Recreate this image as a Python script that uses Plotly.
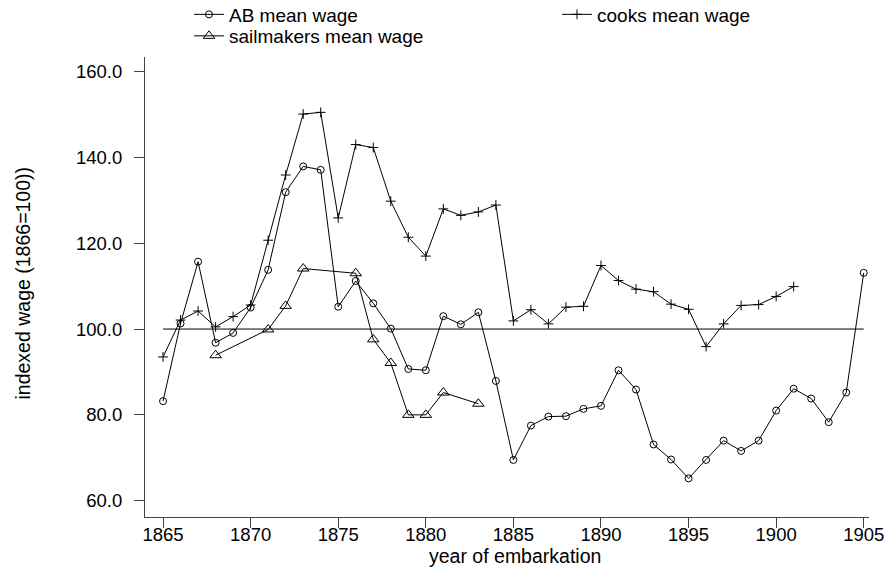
import plotly.graph_objects as go

years_ab = list(range(1865, 1906))
ab_wage = [83.2, 101.3, 115.7, 96.8, 99.1, 105.0, 113.8, 131.9, 137.9, 137.1,
           105.2, 111.2, 106.0, 100.1, 90.7, 90.4, 103.0, 101.1, 103.9, 87.9,
           69.5, 77.5, 79.6, 79.7, 81.4, 82.1, 90.4, 85.9, 73.1, 69.6,
           65.2, 69.5, 74.0, 71.6, 74.0, 81.0, 86.1, 83.8, 78.3, 85.2, 113.1]

years_cooks = list(range(1865, 1902))
cooks_wage = [93.5, 102.1, 104.2, 100.5, 102.9, 105.6, 120.7, 135.9, 150.1, 150.5,
              125.9, 143.0, 142.3, 129.8, 121.4, 117.0, 128.0, 126.5, 127.3, 128.9,
              101.9, 104.5, 101.2, 105.1, 105.3, 114.8, 111.3, 109.3, 108.7, 105.8,
              104.6, 95.9, 101.2, 105.5, 105.7, 107.6, 109.9]

years_sail = [1868, 1871, 1872, 1873, 1876, 1877, 1878, 1879, 1880, 1881, 1883]
sail_wage = [93.9, 99.9, 105.4, 114.1, 113.0, 97.6, 92.1, 80.0, 80.0, 85.2, 82.6]

ref_years = [1865, 1905]
ref_value = [100, 100]

x_ticks = list(range(1865, 1906, 5))
y_ticks = [60, 80, 100, 120, 140, 160]

x_title = "year of embarkation"
y_title = "indexed wage (1866=100))"

FONT = "Arial, Liberation Sans, sans-serif"
BLACK = "#000000"
AXIS = "#444444"

W, H = 886, 573
ML, MR, MT, MB = 145, 17, 57, 56
PW, PH = W - ML - MR, H - MT - MB

fig = go.Figure()
fig.add_trace(go.Scatter(
    x=years_ab, y=ab_wage, name="AB mean wage", mode="lines+markers", legend="legend",
    line=dict(color=BLACK, width=1),
    marker=dict(symbol="circle-open", size=7, color=BLACK, line=dict(width=1, color=BLACK))))
fig.add_trace(go.Scatter(
    x=years_cooks, y=cooks_wage, name="cooks mean wage", mode="lines+markers", legend="legend2",
    line=dict(color=BLACK, width=1),
    marker=dict(symbol="cross-thin", size=7, color=BLACK, line=dict(width=1, color=BLACK))))
fig.add_trace(go.Scatter(
    x=years_sail, y=sail_wage, name="sailmakers mean wage", mode="lines+markers", legend="legend3",
    line=dict(color=BLACK, width=1),
    marker=dict(symbol="triangle-up-open", size=10, color=BLACK, line=dict(width=1, color=BLACK))))
fig.add_trace(go.Scatter(
    x=ref_years, y=ref_value, mode="lines", showlegend=False,
    line=dict(color=BLACK, width=1), hoverinfo="skip"))

def leg(x_px, y_px):
    # x_px: pixel where the legend text starts; y_px: pixel of the row centre
    return dict(x=(x_px - 40 - ML) / PW, xanchor="left",
                y=1 + (MT - y_px) / PH, yanchor="middle",
                font=dict(size=19), bgcolor="rgba(0,0,0,0)", borderwidth=0,
                itemwidth=30)

fig.update_layout(
    width=W, height=H,
    margin=dict(l=ML, r=MR, t=MT, b=MB, autoexpand=False),
    paper_bgcolor="white", plot_bgcolor="white",
    font=dict(family=FONT, size=18, color=BLACK),
    legend=leg(229, 14.5), legend2=leg(597, 14.5), legend3=leg(229, 36),
    showlegend=True,
)
fig.update_xaxes(
    range=[1863.97, 1905.3], tickvals=x_ticks, ticks="outside", ticklen=10,
    tickcolor=AXIS, showline=True, linecolor=AXIS, linewidth=1,
    showgrid=False, zeroline=False, mirror=False, ticklabelstandoff=-9,
    tickfont=dict(size=18.5))
fig.update_yaxes(
    range=[56.2, 163.4], tickvals=y_ticks, tickformat=".1f", ticks="outside",
    ticklen=10, tickcolor=AXIS, showline=True, linecolor=AXIS, linewidth=1,
    showgrid=False, zeroline=False, mirror=False, ticklabelstandoff=8,
    tickfont=dict(size=18.5))

fig.add_annotation(text=x_title, xref="paper", yref="paper",
                   x=(515 - ML) / PW, y=-(556 - (MT + PH)) / PH,
                   xanchor="center", yanchor="middle", showarrow=False,
                   font=dict(size=19.5))
fig.add_annotation(text=y_title, xref="paper", yref="paper", textangle=-90,
                   x=(22.5 - ML) / PW, y=1 - (283 - MT) / PH,
                   xanchor="center", yanchor="middle", showarrow=False,
                   font=dict(size=19.5))

fig.write_html("out.html", config={"displayModeBar": False},
               post_script="document.body.style.margin='0';document.body.style.overflow='hidden';")
